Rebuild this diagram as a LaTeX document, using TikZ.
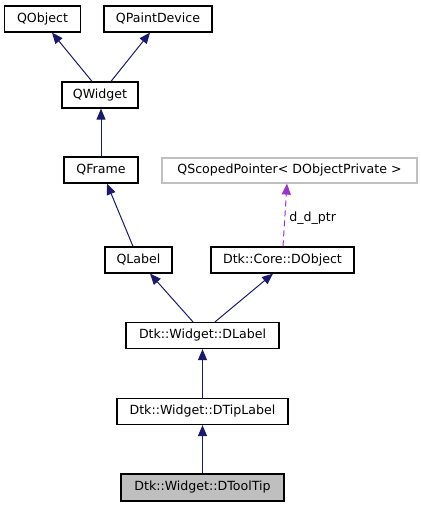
\documentclass[tikz,border=0pt]{standalone}
\usepackage{fontspec}
\setmainfont{DejaVu Sans}
\usetikzlibrary{arrows.meta,calc}
\definecolor{edgeblue}{HTML}{191970}
\definecolor{usepurple}{HTML}{9A32CD}
\definecolor{grayfill}{HTML}{BFBFBF}
\definecolor{lightborder}{HTML}{BFBFBF}
\begin{document}
\begin{tikzpicture}[x=1pt,y=-1pt,
  box/.style={draw=black,line width=1.2pt,fill=white,inner sep=0pt,minimum height=26pt,
    font=\fontsize{12.6}{14}\selectfont},
  graybox/.style={box,fill=grayfill},
  lightbox/.style={box,draw=lightborder},
  inherit/.style={draw=edgeblue,line width=1pt,-{Triangle[length=11pt,width=9pt,fill=edgeblue]}},
  uses/.style={draw=usepurple,line width=1pt,dash pattern=on 6pt off 4pt,-{Triangle[length=11pt,width=9pt,fill=usepurple]}},
  lbl/.style={font=\fontsize{12.6}{14}\selectfont,inner sep=0pt}]
\useasboundingbox (0,0) rectangle (421,507);
\node[box,minimum width=76pt] (qobject) at (42.5,19) {QObject};
\node[box,minimum width=108pt] (qpaint) at (158,19) {QPaintDevice};
\node[box,minimum width=76pt] (qwidget) at (100,95) {QWidget};
\node[box,minimum width=74pt] (qframe) at (101,170) {QFrame};
\node[box,minimum width=67pt] (qlabel) at (138.5,260) {QLabel};
\node[lightbox,minimum width=255pt,minimum height=25pt] (qscoped) at (289.5,170.5) {QScopedPointer< DObjectPrivate >};
\node[box,minimum width=143pt] (dobject) at (282.5,260) {Dtk::Core::DObject};
\node[box,minimum width=153pt] (dlabel) at (202.5,335.5) {Dtk::Widget::DLabel};
\node[box,minimum width=171pt] (dtiplabel) at (202.5,411.5) {Dtk::Widget::DTipLabel};
\node[graybox,minimum width=163pt,minimum height=27pt] (dtooltip) at (202.5,487.5) {Dtk::Widget::DToolTip};

\draw[inherit] ($(qwidget.north)+(-8,0)$) -- ($(qobject.south)+(9.5,0)$);
\draw[inherit] ($(qwidget.north)+(11,0)$) -- ($(qpaint.south)+(-8,0)$);
\draw[inherit] ($(qframe.north)+(0,0)$) -- ($(qwidget.south)+(1,0)$);
\draw[inherit] ($(qlabel.north)+(-5.5,0)$) -- ($(qframe.south)+(6,0)$);
\draw[inherit] ($(dlabel.north)+(-9.5,0)$) -- ($(qlabel.south)+(11.5,0)$);
\draw[inherit] ($(dlabel.north)+(12.5,0)$) -- ($(dobject.south)+(-9.5,0)$);
\draw[inherit] (dtiplabel.north) -- (dlabel.south);
\draw[inherit] (dtooltip.north) -- (dtiplabel.south);
\draw[uses] ($(dobject.north)+(0.5,0)$) -- node[lbl,right=4pt,pos=0.45] (ddptr) {d\_d\_ptr} ($(qscoped.south)+(-2.5,0)$);
\end{tikzpicture}
\end{document}
